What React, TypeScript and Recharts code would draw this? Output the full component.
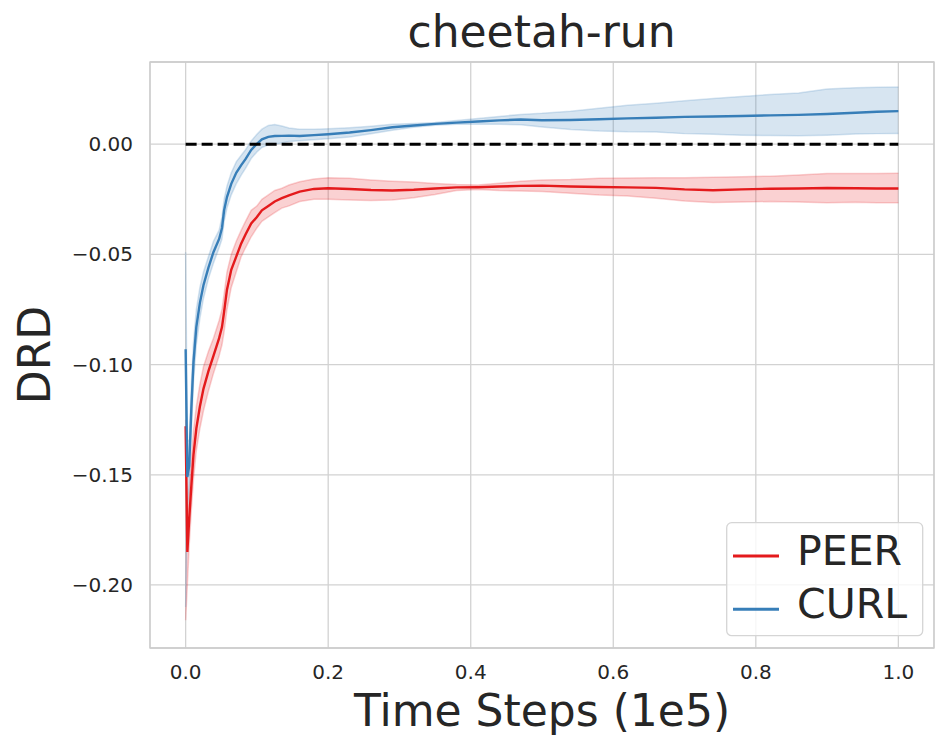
import {
  ComposedChart,
  Area,
  Line,
  XAxis,
  YAxis,
  CartesianGrid,
  ReferenceLine,
  ReferenceArea,
  Legend,
} from "recharts"

const FONT = "'DejaVu Sans', sans-serif"
const TEXT = "#262626"
const RED = "#e41a1c"
const BLUE = "#377eb8"

// time steps in units of 1e5
const steps = [
  0, 0.0024, 0.005, 0.008, 0.011, 0.015, 0.02, 0.025, 0.032, 0.039, 0.047, 0.051,
  0.054, 0.058, 0.064, 0.071, 0.078, 0.084, 0.092, 0.1, 0.107, 0.116, 0.125, 0.135,
  0.145, 0.16, 0.18, 0.2, 0.23, 0.26, 0.29, 0.32, 0.35, 0.38, 0.41, 0.44, 0.47, 0.5,
  0.54, 0.58, 0.62, 0.66, 0.7, 0.74, 0.78, 0.82, 0.86, 0.9, 0.94, 0.97, 1.0,
]

const curlMean = [
  -0.093, -0.151, -0.146, -0.12, -0.099, -0.083, -0.072, -0.064, -0.056, -0.049, -0.043, -0.038,
  -0.03, -0.024, -0.018, -0.013, -0.0095, -0.0068, -0.0026, 0.0002, 0.0022, 0.0033, 0.0037, 0.0038,
  0.0039, 0.0037, 0.0041, 0.0045, 0.0053, 0.0064, 0.0077, 0.0085, 0.0092, 0.0098, 0.0103, 0.0108, 0.0112, 0.0109,
  0.011, 0.0113, 0.0117, 0.012, 0.0124, 0.0126, 0.0128, 0.0131, 0.0133, 0.0137, 0.0143, 0.0147, 0.015,
]
const curlLow = [
  -0.21, -0.165, -0.156, -0.131, -0.108, -0.091, -0.079, -0.07, -0.061, -0.054, -0.047, -0.043,
  -0.035, -0.029, -0.023, -0.018, -0.014, -0.011, -0.0065, -0.0035, -0.0015, -0.0003, 0.0001, 0.0006,
  0.0012, 0.0016, 0.002, 0.0025, 0.0033, 0.0047, 0.0063, 0.0077, 0.0086, 0.009, 0.009, 0.009, 0.0088, 0.0078,
  0.0067, 0.006, 0.0056, 0.0055, 0.0048, 0.0045, 0.0041, 0.0039, 0.0038, 0.0041, 0.0046, 0.0048, 0.0049,
]
const curlHigh = [
  -0.049, -0.135, -0.134, -0.109, -0.09, -0.075, -0.065, -0.058, -0.051, -0.044, -0.039, -0.033,
  -0.025, -0.019, -0.013, -0.008, -0.005, -0.0025, 0.0015, 0.0045, 0.0068, 0.0085, 0.0089, 0.0083,
  0.0074, 0.0068, 0.0068, 0.007, 0.0075, 0.0082, 0.009, 0.0094, 0.0099, 0.0107, 0.0117, 0.0126, 0.0135, 0.014,
  0.015, 0.0163, 0.0177, 0.0186, 0.0197, 0.0207, 0.0217, 0.0225, 0.0232, 0.025, 0.0256, 0.0258, 0.0259,
]

const peerMean = [
  -0.128, -0.185, -0.17, -0.155, -0.141, -0.129, -0.119, -0.111, -0.103, -0.096, -0.088, -0.083,
  -0.076, -0.066, -0.057, -0.051, -0.045, -0.041, -0.036, -0.033, -0.03, -0.028, -0.026, -0.0245,
  -0.0232, -0.0215, -0.0203, -0.02, -0.0203, -0.0208, -0.021, -0.0207, -0.0201, -0.0196, -0.0195, -0.0192, -0.0189, -0.0188,
  -0.0192, -0.0194, -0.0196, -0.0198, -0.0205, -0.0209, -0.0205, -0.0202, -0.0201, -0.0199, -0.02, -0.0201, -0.0201,
]
const peerLow = [
  -0.216, -0.2, -0.182, -0.166, -0.152, -0.139, -0.129, -0.121, -0.112, -0.104, -0.096, -0.091,
  -0.085, -0.075, -0.065, -0.058, -0.051, -0.047, -0.042, -0.038, -0.035, -0.033, -0.031, -0.029,
  -0.028, -0.026, -0.025, -0.025, -0.0253, -0.0255, -0.0253, -0.0243, -0.0228, -0.021, -0.0205, -0.021, -0.0212, -0.0215,
  -0.0222, -0.023, -0.0235, -0.0245, -0.0258, -0.0265, -0.0262, -0.026, -0.0262, -0.0266, -0.0263, -0.0266, -0.0266,
]
const peerHigh = [
  -0.125, -0.172, -0.158, -0.143, -0.13, -0.119, -0.109, -0.101, -0.094, -0.088, -0.08, -0.075,
  -0.068, -0.058, -0.05, -0.044, -0.039, -0.035, -0.03, -0.028, -0.025, -0.023, -0.021, -0.02,
  -0.0185, -0.017, -0.0158, -0.0152, -0.0155, -0.0162, -0.0168, -0.0172, -0.0178, -0.0183, -0.0185, -0.0177, -0.0168, -0.0162,
  -0.016, -0.0155, -0.0153, -0.0152, -0.0152, -0.015, -0.0148, -0.0145, -0.014, -0.0133, -0.0133, -0.0133, -0.0132,
]

const xTicks = [0, 0.2, 0.4, 0.6, 0.8, 1.0]
const yTicks = [-0.2, -0.15, -0.1, -0.05, 0]
const xDomain = [-0.05, 1.05]
const yDomain = [-0.2286, 0.0373]
const zeroSegment = [
  { x: 0, y: 0 },
  { x: 1, y: 0 },
]
const legendItems = [
  { name: "PEER", color: RED },
  { name: "CURL", color: BLUE },
]

const data = steps.map((step, i) => ({
  step,
  peer: peerMean[i],
  peerBand: [peerLow[i], peerHigh[i]],
  curl: curlMean[i],
  curlBand: [curlLow[i], curlHigh[i]],
}))

const fmtY = (v: number) => (v < 0 ? "\u2212" : "") + Math.abs(v).toFixed(2)

function YLabel(props: any) {
  const vb = props.viewBox || { y: 62, height: 586 }
  const cy = vb.y + vb.height / 2
  return (
    <text
      x={50}
      y={cy}
      transform={`rotate(-90, 50, ${cy})`}
      textAnchor="middle"
      fill={TEXT}
      fontSize={44}
      fontFamily={FONT}
    >
      DRD
    </text>
  )
}

function LegendBox() {
  return (
    <svg width={198} height={115} style={{ display: "block" }}>
      <rect
        x={0.7}
        y={0.7}
        width={196}
        height={113}
        rx={5}
        fill="rgba(255,255,255,0.8)"
        stroke="#d5d5d5"
        strokeWidth={1.3}
      />
      {legendItems.map((item, i) => (
        <g key={item.name}>
          <line
            x1={7}
            x2={53}
            y1={34 + i * 53.3}
            y2={34 + i * 53.3}
            stroke={item.color}
            strokeWidth={3}
          />
          <text x={71} y={42.5 + i * 53.3} fill={TEXT} fontSize={41} fontFamily={FONT}>
            {item.name}
          </text>
        </g>
      ))}
    </svg>
  )
}

export default function App() {
  return (
    <div
      style={{
        position: "absolute",
        left: 0,
        top: 0,
        width: 950,
        height: 751,
        background: "#fff",
        fontFamily: FONT,
      }}
    >
      <svg
        width={950}
        height={70}
        style={{ position: "absolute", left: 0, top: 0, pointerEvents: "none" }}
      >
        <text x={541.5} y={46.5} textAnchor="middle" fill={TEXT} fontSize={44} fontFamily={FONT}>
          cheetah-run
        </text>
      </svg>
      <ComposedChart
        width={950}
        height={751}
        data={data}
        margin={{ top: 62, right: 16, bottom: 0, left: 0 }}
      >
        <CartesianGrid stroke="#d2d2d2" strokeWidth={1.3} />
        <ReferenceArea
          x1={xDomain[0]}
          x2={xDomain[1]}
          y1={yDomain[0]}
          y2={yDomain[1]}
          fill="none"
          stroke="#cccccc"
          strokeWidth={1.3}
        />
        <XAxis
          type="number"
          dataKey="step"
          domain={xDomain}
          allowDataOverflow
          ticks={xTicks}
          interval={0}
          tickFormatter={(v: number) => v.toFixed(1)}
          tickLine={false}
          axisLine={false}
          tickSize={0}
          tickMargin={17}
          height={103}
          tick={{ fill: TEXT, fontSize: 20, fontFamily: FONT }}
          label={{
            value: "Time Steps (1e5)",
            position: "insideBottom",
            offset: 25,
            fill: TEXT,
            fontSize: 44,
            fontFamily: FONT,
          }}
        />
        <YAxis
          type="number"
          domain={yDomain}
          allowDataOverflow
          ticks={yTicks}
          interval={0}
          tickFormatter={fmtY}
          tickLine={false}
          axisLine={false}
          tickSize={0}
          tickMargin={17}
          width={150}
          tick={{ fill: TEXT, fontSize: 20, fontFamily: FONT }}
          label={<YLabel />}
        />
        <Area
          dataKey="peerBand"
          type="linear"
          fill={RED}
          fillOpacity={0.2}
          stroke={RED}
          strokeOpacity={0.2}
          strokeWidth={1.5}
          isAnimationActive={false}
          legendType="none"
        />
        <Line
          dataKey="peer"
          type="linear"
          stroke={RED}
          strokeWidth={2.4}
          dot={false}
          isAnimationActive={false}
        />
        <Area
          dataKey="curlBand"
          type="linear"
          fill={BLUE}
          fillOpacity={0.2}
          stroke={BLUE}
          strokeOpacity={0.2}
          strokeWidth={1.5}
          isAnimationActive={false}
          legendType="none"
        />
        <Line
          dataKey="curl"
          type="linear"
          stroke={BLUE}
          strokeWidth={2.4}
          dot={false}
          isAnimationActive={false}
        />
        <ReferenceLine
          segment={zeroSegment}
          stroke="#000"
          strokeWidth={3}
          strokeDasharray="11 5"
        />
        <Legend
          layout="vertical"
          align="center"
          verticalAlign="middle"
          wrapperStyle={{ left: 726, top: 522, width: 198, height: 115 }}
          content={() => <LegendBox />}
        />
      </ComposedChart>
    </div>
  )
}
